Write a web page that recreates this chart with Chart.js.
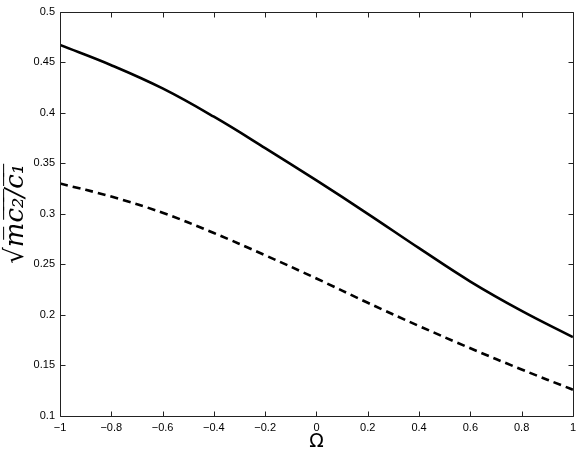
<!DOCTYPE html>
<html>
<head>
<meta charset="utf-8">
<script src="https://cdn.jsdelivr.net/npm/chart.js@4/dist/chart.umd.min.js"></script>
<style>
  html, body { margin: 0; padding: 0; background: #fff; }
  #wrap { width: 581px; height: 458px; }
</style>
</head>
<body>
<div id="wrap"><canvas id="c" width="581" height="458"></canvas></div>
<script>
const omega = [-1, -0.8, -0.6, -0.4, -0.2, 0, 0.2, 0.4, 0.6, 0.8, 1];
const solidValues = [0.467, 0.447, 0.424, 0.396, 0.365, 0.333, 0.300, 0.266, 0.233, 0.204, 0.178];
const dashedValues = [0.330, 0.317, 0.301, 0.281, 0.259, 0.236, 0.212, 0.189, 0.167, 0.146, 0.126];
const xTicks = [-1, -0.8, -0.6, -0.4, -0.2, 0, 0.2, 0.4, 0.6, 0.8, 1];
const yTicks = [0.1, 0.15, 0.2, 0.25, 0.3, 0.35, 0.4, 0.45, 0.5];
const xTitle = 'Ω';
const yTitle = '√m\u0305c\u0305\u2082\u0305/\u0305c\u0305\u2081\u0305';

function fmt(v) {
  const s = String(+(+v).toFixed(2));
  return s.replace('-', '\u2212');
}

const boxTicks = {
  id: 'boxTicks',
  afterDraw(chart) {
    const { ctx, chartArea: a, scales } = chart;
    ctx.save();
    ctx.strokeStyle = '#222';
    ctx.lineWidth = 1;
    ctx.beginPath();
    const L = Math.round(a.left) + 0.5, R = Math.round(a.right) + 0.5;
    const T = Math.round(a.top) + 0.5, B = Math.round(a.bottom) + 0.5;
    ctx.rect(L, T, R - L, B - T);
    const len = 5;
    xTicks.forEach(v => {
      const x = Math.round(scales.x.getPixelForValue(v)) + 0.5;
      ctx.moveTo(x, B); ctx.lineTo(x, B - len);
      ctx.moveTo(x, T); ctx.lineTo(x, T + len);
    });
    yTicks.forEach(v => {
      const y = Math.round(scales.y.getPixelForValue(v)) + 0.5;
      ctx.moveTo(L, y); ctx.lineTo(L + len, y);
      ctx.moveTo(R, y); ctx.lineTo(R - len, y);
    });
    ctx.stroke();
    ctx.restore();
  }
};

new Chart(document.getElementById('c'), {
  type: 'line',
  data: {
    datasets: [
      {
        data: omega.map((x, i) => ({ x, y: solidValues[i] })),
        borderColor: '#000', borderWidth: 2.6, pointRadius: 0,
        tension: 0.4, fill: false
      },
      {
        data: omega.map((x, i) => ({ x, y: dashedValues[i] })),
        borderColor: '#000', borderWidth: 2.6, pointRadius: 0,
        borderDash: [8, 5],
        tension: 0.4, fill: false
      }
    ]
  },
  options: {
    responsive: false,
    animation: false,
    devicePixelRatio: 1,
    layout: { padding: { top: 11, right: 8, left: 0, bottom: 0 } },
    plugins: { legend: { display: false }, tooltip: { enabled: false } },
    scales: {
      x: {
        type: 'linear', min: -1, max: 1,
        afterBuildTicks: s => { s.ticks = xTicks.map(v => ({ value: v })); },
        afterFit: s => { s.height = 42; },
        grid: { display: false, drawTicks: false },
        border: { display: false },
        ticks: {
          padding: 5, color: '#000', maxRotation: 0, autoSkip: false,
          font: { family: 'Liberation Sans', size: 11 },
          callback: v => fmt(v)
        },
        title: {
          display: true, text: xTitle, color: '#000',
          font: { family: 'DejaVu Sans', size: 19 },
          padding: { top: 0, bottom: 5 }
        }
      },
      y: {
        type: 'linear', min: 0.1, max: 0.5,
        afterBuildTicks: s => { s.ticks = yTicks.map(v => ({ value: v })); },
        afterFit: s => { s.width = 60; },
        grid: { display: false, drawTicks: false },
        border: { display: false },
        ticks: {
          padding: 5, color: '#000', autoSkip: false,
          font: { family: 'Liberation Sans', size: 11 },
          callback: v => fmt(v)
        },
        title: {
          display: true, text: yTitle, color: '#000',
          font: { family: 'DejaVu Serif', size: 26, style: 'italic' },
          padding: { top: 1, bottom: 0 }
        }
      }
    }
  },
  plugins: [boxTicks]
});
</script>
</body>
</html>
